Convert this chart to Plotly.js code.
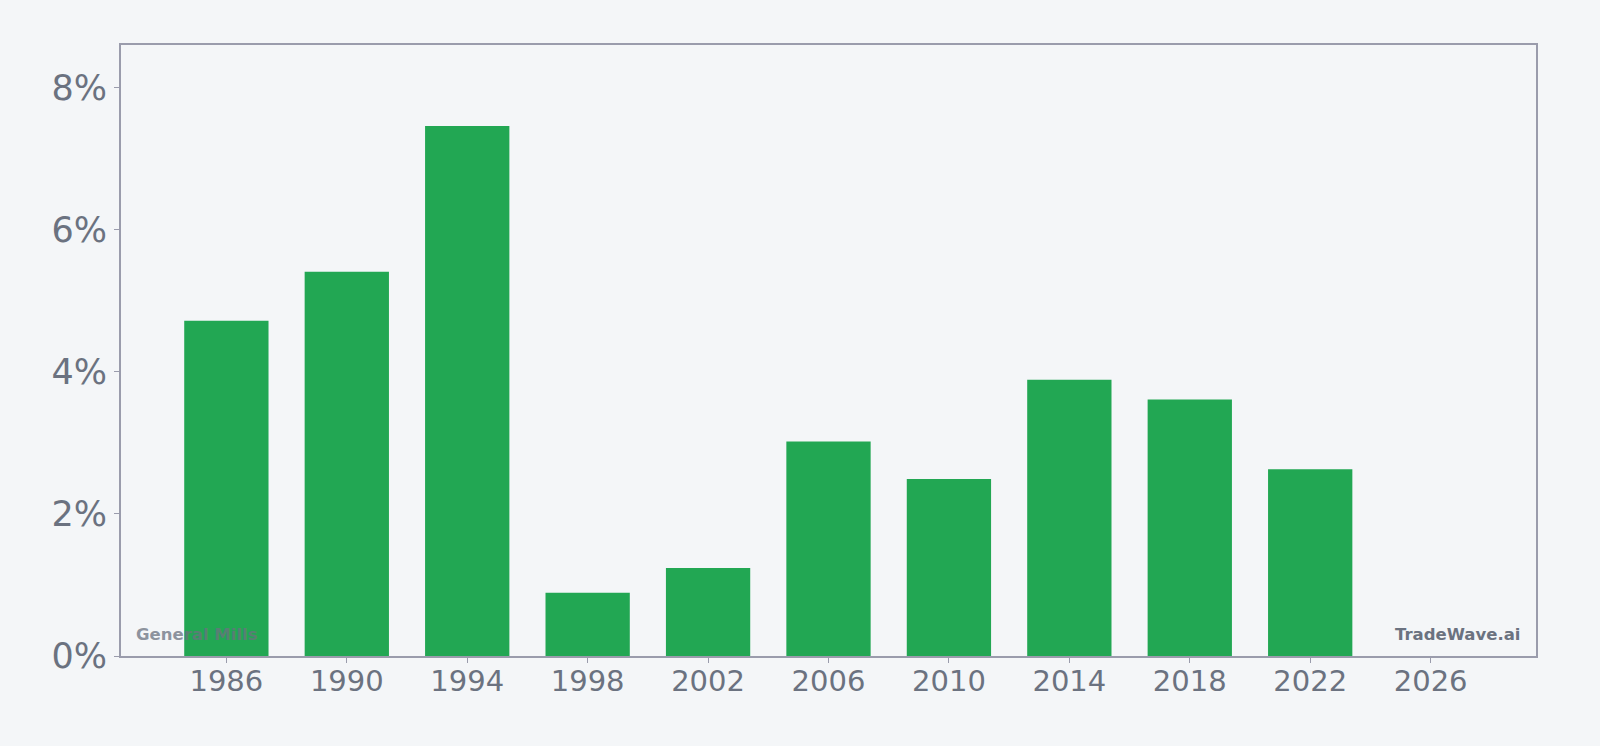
<!DOCTYPE html>
<html>
<head>
<meta charset="utf-8">
<script src="https://cdn.plot.ly/plotly-3.0.1.min.js"></script>
<style>html,body{margin:0;padding:0;background:#f4f6f8;}#chart{width:1600px;height:746px;}</style>
</head>
<body>
<div id="chart"></div>
<script>
const years = [1986, 1990, 1994, 1998, 2002, 2006, 2010, 2014, 2018, 2022];
const values = [4.72, 5.41, 7.46, 0.89, 1.24, 3.02, 2.49, 3.89, 3.61, 2.63];
const xTicks = [1986, 1990, 1994, 1998, 2002, 2006, 2010, 2014, 2018, 2022, 2026];
const yTicks = [0, 2, 4, 6, 8];
const yTickLabels = ["0%", "2%", "4%", "6%", "8%"];

const textColor = "#6b7280";
const borderColor = "#9a9cac";

Plotly.newPlot("chart", [{
  type: "bar",
  x: years,
  y: values,
  width: 2.8,
  marker: {color: "#22a753", line: {width: 0}},
  hoverinfo: "x+y"
}], {
  width: 1600, height: 746,
  paper_bgcolor: "#f4f6f8",
  plot_bgcolor: "#f4f6f8",
  margin: {l: 121, r: 64, t: 45, b: 90},
  showlegend: false,
  font: {family: "DejaVu Sans", color: textColor},
  xaxis: {
    range: [1982.5, 2029.5],
    tickvals: xTicks,
    ticktext: xTicks.map(String),
    ticks: "outside", ticklen: 5, tickcolor: borderColor,
    ticklabelstandoff: -7,
    tickfont: {size: 29, color: textColor},
    showgrid: false, zeroline: false,
    showline: true, linecolor: borderColor, linewidth: 2, mirror: true
  },
  yaxis: {
    range: [0, 8.6],
    tickvals: yTicks,
    ticktext: yTickLabels,
    ticks: "outside", ticklen: 5, tickcolor: borderColor,
    tickfont: {size: 35, color: textColor},
    showgrid: false, zeroline: false,
    showline: true, linecolor: borderColor, linewidth: 2, mirror: true
  },
  annotations: [
    {text: "<b>General Mills</b>", xref: "paper", yref: "paper", x: 0.009, y: 0.016,
     xanchor: "left", yanchor: "bottom", showarrow: false, opacity: 0.75,
     font: {family: "DejaVu Sans", size: 16.5, color: textColor}},
    {text: "<b>TradeWave.ai</b>", xref: "paper", yref: "paper", x: 0.99, y: 0.016,
     xanchor: "right", yanchor: "bottom", showarrow: false,
     font: {family: "DejaVu Sans", size: 16.5, color: textColor}}
  ]
}, {displayModeBar: false, responsive: false});
</script>
</body>
</html>
